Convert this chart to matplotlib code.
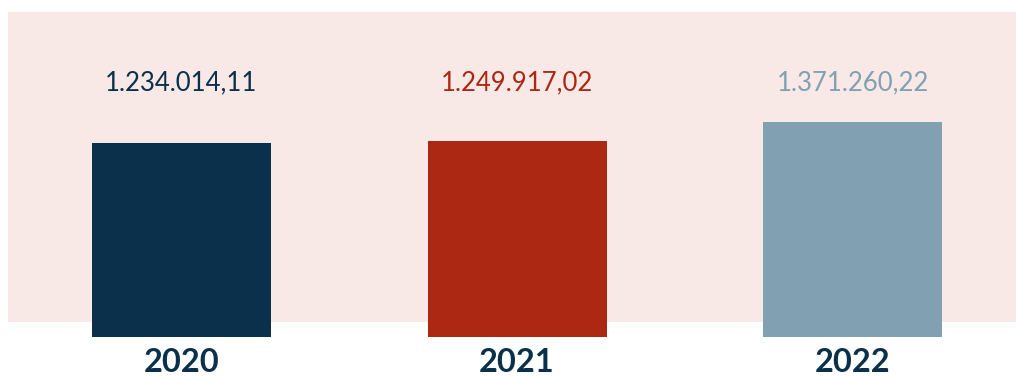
import matplotlib
matplotlib.use("Agg")
import matplotlib.pyplot as plt
from matplotlib.patches import Rectangle

years = ["2020", "2021", "2022"]
values = [1234014.11, 1249917.02, 1371260.22]
value_labels = ["1.234.014,11", "1.249.917,02", "1.371.260,22"]
colors = ["#0B304B", "#AD2813", "#81A1B2"]

W, H = 1016, 377
fig = plt.figure(figsize=(W / 100, H / 100), dpi=100)
fig.patch.set_facecolor("white")

# pink panel
fig.patches.append(Rectangle((8 / W, 55 / H), 1008 / W, 310 / H,
                             transform=fig.transFigure, facecolor="#F8E9E6",
                             edgecolor="none", zorder=0))

ax = fig.add_axes([0, 0, 1, 1])
ax.set_facecolor("none")
ax.set_zorder(1)
ppm = 157.0  # pixels per million
ax.set_xlim(-181.5 / 335.5, 2 + (W - 852.5) / 335.5)
ax.set_ylim(-40 / ppm * 1e6, (H - 40) / ppm * 1e6)
ax.axis("off")

x = list(range(len(years)))
ax.bar(x, values, width=179 / 335.5, color=colors, zorder=2)

for xi, lab, c in zip(x, value_labels, colors):
    ax.text(xi, 294 / H, lab, transform=ax.get_xaxis_transform(),
            ha="center", va="center", fontsize=18.5, color=c, family="Lato")
for xi, yr in zip(x, years):
    ax.text(xi, 14 / H, yr, transform=ax.get_xaxis_transform(),
            ha="center", va="center", fontsize=23.5, color="#0B304B",
            fontweight="bold", family="Lato")

fig.savefig("out.png", dpi=100)
